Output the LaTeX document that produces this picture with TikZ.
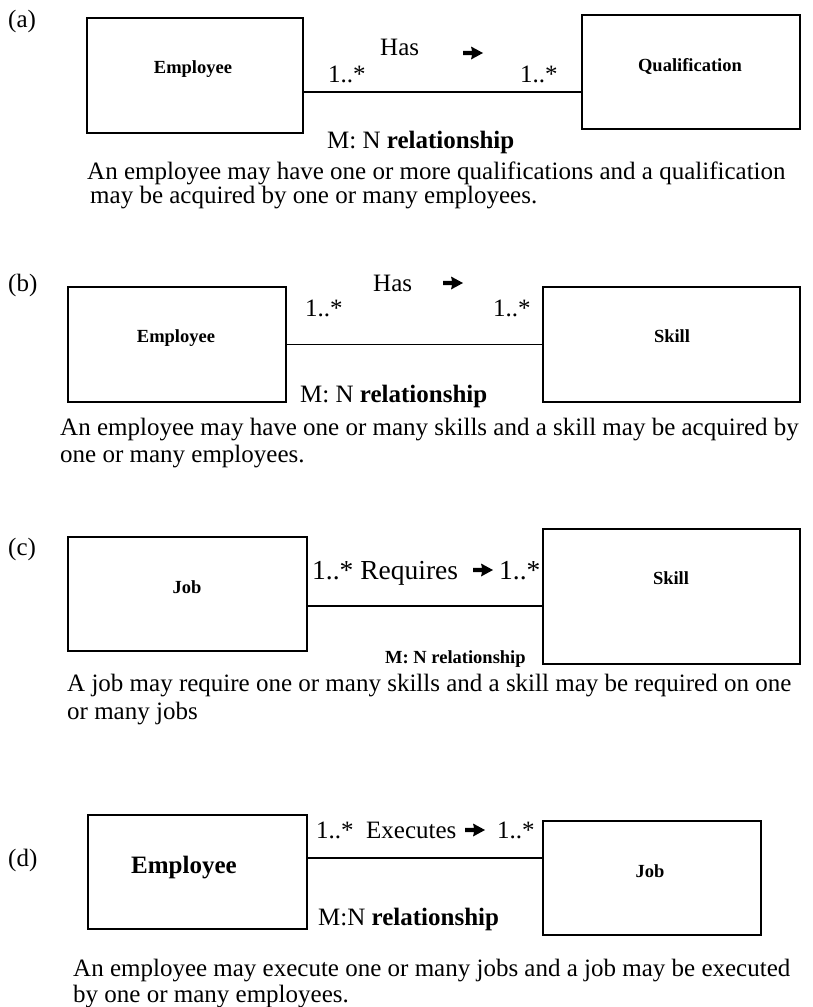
\documentclass[tikz,border=0pt]{standalone}
\usepackage{fontspec}
\setmainfont{Liberation Serif}
\begin{document}
\begin{tikzpicture}[x=1pt,y=-1pt,
  box/.style={draw, line width=1.4pt, inner sep=0pt},
  txt/.style={inner sep=0pt, anchor=base west, font=\fontsize{25}{27}\selectfont},
  widetxt/.style={inner sep=0pt, anchor=base west, font=\fontsize{27.5}{29}\selectfont},
  ent/.style={inner sep=0pt, font=\fontsize{18.5}{20}\selectfont\bfseries},
  bigent/.style={inner sep=0pt, font=\fontsize{25}{27}\selectfont\bfseries},
  smallrel/.style={inner sep=0pt, anchor=base west, font=\fontsize{18.5}{20}\selectfont\bfseries},
  link/.style={line width=1.4pt},
  relarrow/.pic={\fill (-10,-2.2) -- (-1,-2.2) -- (-2,-6.5) -- (10,0) -- (-2,6.5) -- (-1,2.2) -- (-10,2.2) -- cycle;}
]
\useasboundingbox (0,0) rectangle (812,1007);

% ---------- (a) Employee -- Qualification ----------
\node[txt] (la) at (8,27) {(a)};
\node[box, minimum width=216pt, minimum height=115pt] (ea) at (195,75.5) {};
\node[box, minimum width=218pt, minimum height=114pt] (qa) at (691,72) {};
\node[ent] (eat) at (193,69) {Employee};
\node[ent] (qat) at (690,66) {Qualification};
\draw[link] (ea.east |- 0,92) -- (qa.west |- 0,92);
\node[txt] (hasa) at (380,55) {Has};
\pic at (473,53) {relarrow};
\node[txt] (ma1) at (328,82) {1..*};
\node[txt] (ma2) at (520,82) {1..*};
\node[txt] (mna) at (327,148) {M: N \textbf{relationship}};
\node[txt] (da1) at (87,179) {An employee may have one or more qualifications and a qualification};
\node[txt] (da2) at (90,203) {may be acquired by one or many employees.};

% ---------- (b) Employee -- Skill ----------
\node[txt] (lb) at (8,291) {(b)};
\node[box, minimum width=218pt, minimum height=115pt] (eb) at (177,344.5) {};
\node[box, minimum width=257pt, minimum height=115pt] (sb) at (671.5,344.5) {};
\node[ent] (ebt) at (176,338) {Employee};
\node[ent] (sbt) at (672,336) {Skill};
\draw[link] (eb.east) -- (sb.west);
\node[txt] (hasb) at (373,291) {Has};
\pic at (453,283) {relarrow};
\node[txt] (mb1) at (305,316) {1..*};
\node[txt] (mb2) at (493,316) {1..*};
\node[txt] (mnb) at (300,402) {M: N \textbf{relationship}};
\node[txt] (db1) at (60,435) {An employee may have one or many skills and a skill may be acquired by};
\node[txt] (db2) at (60,462) {one or many employees.};

% ---------- (c) Job -- Skill ----------
\node[txt] (lc) at (8,555) {(c)};
\node[box, minimum width=239pt, minimum height=114pt] (jc) at (187.5,594) {};
\node[box, minimum width=257pt, minimum height=135pt] (sc) at (671.5,596.5) {};
\node[ent] (jct) at (187,587) {Job};
\node[ent] (sct) at (671,578) {Skill};
\draw[link] (jc.east |- 0,606) -- (sc.west |- 0,606);
\node[widetxt] (reqc) at (312,579) {1..* Requires};
\pic at (483,570) {relarrow};
\node[widetxt] (mc2) at (499,579) {1..*};
\node[smallrel] (mnc) at (385,663) {M: N relationship};
\node[txt] (dc1) at (67,691) {A job may require one or many skills and a skill may be required on one};
\node[txt] (dc2) at (67,719) {or many jobs};

% ---------- (d) Employee -- Job ----------
\node[txt] (ld) at (8,866) {(d)};
\node[box, minimum width=219pt, minimum height=114pt] (ed) at (197.5,872) {};
\node[box, minimum width=218pt, minimum height=114pt] (jd) at (652,878) {};
\node[bigent] (edt) at (184,868) {Employee};
\node[ent] (jdt) at (650,871) {Job};
\draw[link] (ed.east |- 0,858) -- (jd.west |- 0,858);
\node[txt] (exd) at (316,838) {1..*\ \ Executes};
\pic at (475,830) {relarrow};
\node[txt] (md2) at (497,838) {1..*};
\node[txt] (mnd) at (318,925) {M:N \textbf{relationship}};
\node[txt] (dd1) at (73,976) {An employee may execute one or many jobs and a job may be executed};
\node[txt] (dd2) at (73,1002) {by one or many employees.};
\end{tikzpicture}
\end{document}
